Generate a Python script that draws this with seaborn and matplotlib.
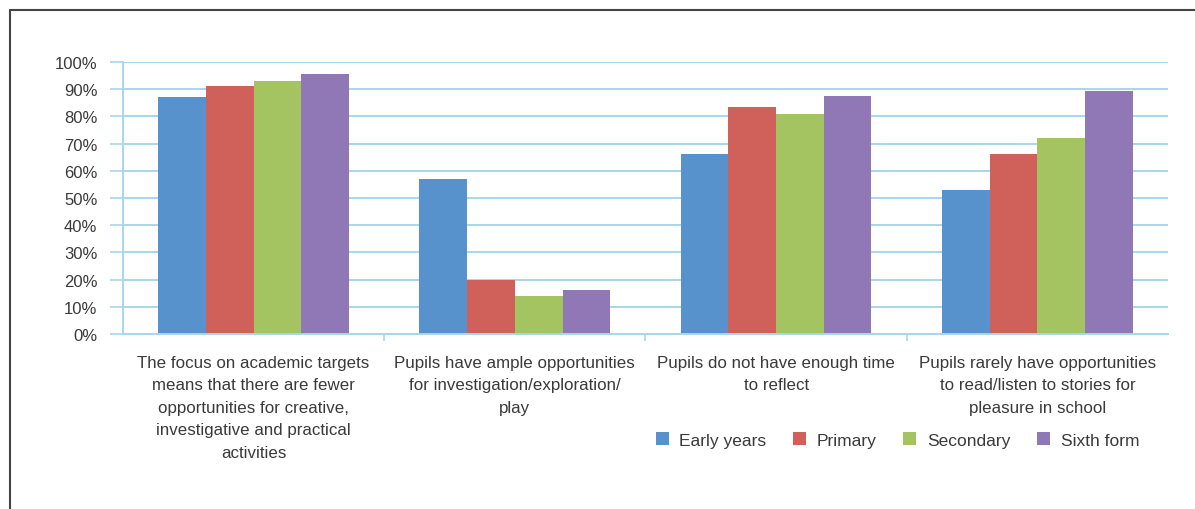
import matplotlib
matplotlib.use("Agg")
import matplotlib.pyplot as plt
from matplotlib.lines import Line2D
from matplotlib.patches import Patch
import seaborn as sns
import pandas as pd

# data (share of respondents agreeing)
statements = [
    "The focus on academic targets\nmeans that there are fewer\nopportunities for creative,\ninvestigative and practical\nactivities",
    "Pupils have ample opportunities\nfor investigation/exploration/\nplay",
    "Pupils do not have enough time\nto reflect",
    "Pupils rarely have opportunities\nto read/listen to stories for\npleasure in school",
]
phases = ["Early years", "Primary", "Secondary", "Sixth form"]
early_years = [0.87, 0.57, 0.66, 0.53]
primary = [0.91, 0.20, 0.835, 0.66]
secondary = [0.93, 0.14, 0.81, 0.72]
sixth_form = [0.955, 0.16, 0.875, 0.895]
phase_colors = ["#5892cd", "#d0615a", "#a4c462", "#8f78b5"]

grid_col = "#a9d6ea"
text_col = "#3a3a3a"

rows = []
for name, vals in zip(phases, [early_years, primary, secondary, sixth_form]):
    for s, v in zip(statements, vals):
        rows.append({"statement": s, "phase": name, "value": v})
df = pd.DataFrame(rows)

sns.set_theme(style="white")
plt.rcParams['font.family'] = ['Liberation Sans', 'DejaVu Sans']

fig = plt.figure(figsize=(11.95, 5.1), dpi=100)
ax = fig.add_axes([0.1029, 0.3431, 0.8745, 0.5334])

sns.barplot(data=df, x="statement", y="value", hue="phase", order=statements,
            hue_order=phases, palette=phase_colors, width=0.73, gap=0,
            saturation=1, errorbar=None, legend=False, linewidth=0, ax=ax)

ax.set_ylim(0, 1)
ax.set_xlim(-0.5, 3.5)
ax.set_yticks([i / 10 for i in range(11)])
ax.set_yticklabels([f"{i * 10}%" for i in range(11)], fontsize=12, color=text_col)
ax.yaxis.grid(True, color=grid_col, linewidth=1.4)
ax.set_axisbelow(True)
ax.tick_params(axis="y", length=9.5, width=1.2, color=grid_col, pad=9, left=True)
ax.set_xticks(range(4))
ax.set_xticklabels(statements, fontsize=12.2, color=text_col, linespacing=1.62)
ax.tick_params(axis="x", length=0, pad=15)
ax.set_xticks([0.5, 1.5, 2.5], minor=True)
ax.tick_params(axis="x", which="minor", length=5, width=1.2, color=grid_col, bottom=True)
ax.set_xlabel("")
ax.set_ylabel("")
for side in ["top", "right"]:
    ax.spines[side].set_visible(False)
for side in ["left", "bottom"]:
    ax.spines[side].set_color(grid_col)
    ax.spines[side].set_linewidth(1.4)

handles = [Patch(facecolor=c, edgecolor="none", label=p) for p, c in zip(phases, phase_colors)]
fig.legend(handles=handles, loc="center", bbox_to_anchor=(0.751, 0.135), ncol=4,
           frameon=False, fontsize=12.5, handlelength=0.75, handleheight=0.75,
           handletextpad=0.6, columnspacing=1.55, labelcolor=text_col)

# page frame: top and left rules
fig.add_artist(Line2D([0.0084, 1.0], [0.978, 0.978], color="#444444", linewidth=1.5))
fig.add_artist(Line2D([0.0084, 0.0084], [0.0, 0.978], color="#444444", linewidth=1.5))

fig.savefig("out.png", dpi=100)
